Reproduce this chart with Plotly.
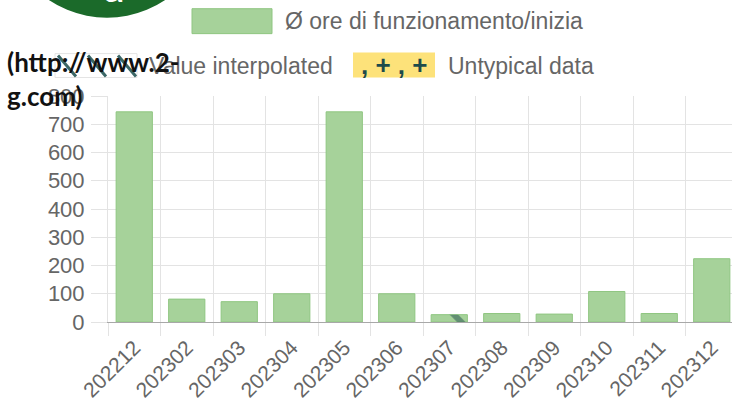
import plotly.graph_objects as go

categories = ["202212", "202302", "202303", "202304", "202305", "202306",
              "202307", "202308", "202309", "202310", "202311", "202312"]
hours = [744, 81, 72, 100, 744, 100, 26, 30, 28, 108, 30, 224]
interpolated = [None, None, None, None, None, None, 26, None, None, None, None, None]
y_ticks = [0, 100, 200, 300, 400, 500, 600, 700, 800]

W, H = 732, 414
L, T, B, R = 108, 95.5, 92, 0
PW, PH = W - L - R, H - T - B


def px(x):
    return (x - L) / PW


def py(y):
    return (H - B - y) / PH


GREEN = "#a6d29a"
GREEN_LINE = "#8fc681"
GREY = "#666666"
FONT = "Liberation Sans, Arial, sans-serif"

fig = go.Figure()
fig.add_trace(go.Bar(
    x=categories, y=hours, name="Ø ore di funzionamento/inizia",
    marker=dict(color=GREEN, line=dict(color=GREEN_LINE, width=1)),
    width=0.69, showlegend=False, hoverinfo="x+y"))
fig.add_trace(go.Bar(
    x=categories, y=interpolated, name="Value interpolated",
    marker=dict(color="rgba(0,0,0,0)", line=dict(width=0),
                pattern=dict(shape="\\", size=30, solidity=0.2,
                             fgcolor="#1d4b4b", bgcolor="rgba(0,0,0,0)",
                             fillmode="overlay")),
    width=0.69, showlegend=False, hoverinfo="skip"))

shapes = []
annotations = []

# logo circle (partially visible)
shapes.append(dict(type="circle", xref="paper", yref="paper",
                   x0=px(3), x1=px(211), y0=py(17), y1=py(-191),
                   fillcolor="#1b6a2a", line=dict(width=0), layer="above"))
annotations.append(dict(xref="paper", yref="paper", x=px(114), y=py(12),
                        xanchor="center", yanchor="bottom", showarrow=False,
                        text="<b>a</b>", font=dict(family="Lato, sans-serif", size=40, color="white")))

# legend row 1
shapes.append(dict(type="rect", xref="paper", yref="paper",
                   x0=px(192), x1=px(272), y0=py(33), y1=py(8),
                   fillcolor=GREEN, line=dict(color=GREEN_LINE, width=1), layer="above"))
annotations.append(dict(xref="paper", yref="paper", x=px(283), y=py(20.5),
                        xanchor="left", yanchor="middle", showarrow=False,
                        text="Ø ore di funzionamento/inizia",
                        font=dict(family=FONT, size=23, color=GREY)))

# legend row 2: hatched swatch
shapes.append(dict(type="rect", xref="paper", yref="paper",
                   x0=px(55), x1=px(137), y0=py(77), y1=py(53),
                   fillcolor="white", line=dict(color="#e4e4e4", width=1), layer="above"))
for x0 in (58, 88, 118):
    shapes.append(dict(type="line", xref="paper", yref="paper",
                       x0=px(x0), x1=px(x0 + 18), y0=py(55), y1=py(76),
                       line=dict(color="#3a6666", width=3), layer="above"))
annotations.append(dict(xref="paper", yref="paper", x=px(147), y=py(65),
                        xanchor="left", yanchor="middle", showarrow=False,
                        text="Value interpolated",
                        font=dict(family=FONT, size=23, color=GREY)))
# untypical swatch
shapes.append(dict(type="rect", xref="paper", yref="paper",
                   x0=px(353), x1=px(435), y0=py(77), y1=py(52),
                   fillcolor="#fde27a", line=dict(width=0), layer="above"))
annotations.append(dict(xref="paper", yref="paper", x=px(394), y=py(64),
                        xanchor="center", yanchor="middle", showarrow=False,
                        text="<b>, + , +</b>",
                        font=dict(family=FONT, size=26, color="#1d4b4b")))
annotations.append(dict(xref="paper", yref="paper", x=px(446), y=py(65),
                        xanchor="left", yanchor="middle", showarrow=False,
                        text="Untypical data",
                        font=dict(family=FONT, size=23, color=GREY)))

# URL text
annotations.append(dict(xref="paper", yref="paper", x=px(5), y=py(61),
                        xanchor="left", yanchor="middle", showarrow=False,
                        text="<b>(http://www.2-</b>",
                        font=dict(family="Lato, sans-serif", size=26, color="#111111")))
annotations.append(dict(xref="paper", yref="paper", x=px(5), y=py(96),
                        xanchor="left", yanchor="middle", showarrow=False,
                        text="<b>g.com)</b>",
                        font=dict(family="Lato, sans-serif", size=26, color="#111111")))

fig.update_layout(
    width=W, height=H,
    margin=dict(l=L, r=R, t=T, b=B, autoexpand=False),
    paper_bgcolor="white", plot_bgcolor="white",
    barmode="overlay", showlegend=False,
    shapes=shapes, annotations=annotations,
    font=dict(family=FONT, color=GREY),
)
fig.update_xaxes(
    type="category", categoryorder="array", categoryarray=categories,
    range=[-0.5, 11.5 - 6 / 52.5], tickson="boundaries",
    showgrid=True, gridcolor="#e3e3e3", gridwidth=1,
    ticks="outside", ticklen=13, tickcolor="#e3e3e3",
    showline=True, linecolor="#a8a8a8", linewidth=1,
    tickangle=-45, tickfont=dict(family=FONT, size=21, color=GREY),
    ticklabelstandoff=4,
    automargin=False, fixedrange=True,
)
fig.update_yaxes(
    range=[0, 800], tickvals=y_ticks,
    showgrid=True, gridcolor="#e3e3e3", gridwidth=1, zeroline=False,
    ticks="outside", ticklen=16, tickcolor="#e3e3e3",
    showline=True, linecolor="#e3e3e3", linewidth=1,
    tickfont=dict(family=FONT, size=22, color=GREY), ticklabelstandoff=2,
    automargin=False, fixedrange=True,
)

fig.write_html("out.html", config={"displayModeBar": False},
               post_script="document.body.style.margin='0';document.body.style.overflow='hidden';")
